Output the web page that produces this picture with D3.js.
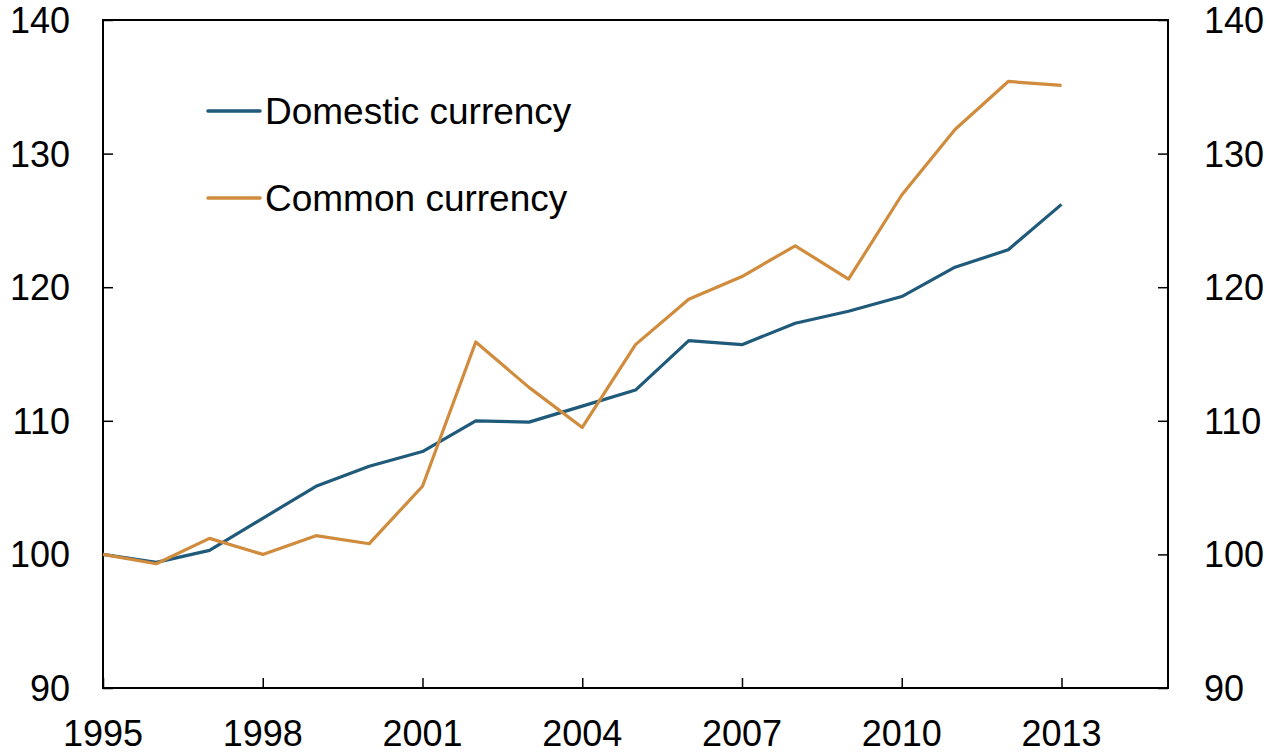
<!doctype html>
<meta charset="utf-8">
<title>Domestic vs common currency</title>
<style>
body, html { margin: 0; background: #fff; }
svg { display: block; font-family: "Liberation Sans", Arial, sans-serif; }
</style>
<script src="https://cdn.jsdelivr.net/npm/d3@7"></script>
<body>
<svg id="chart" width="1267" height="752"></svg>
<script>
var years = d3.range(1995, 2014);
var domestic = [100, 99.4, 100.3, 102.7, 105.1, 106.6, 107.7, 110.0, 109.9, 111.1,
                112.3, 116.0, 115.7, 117.3, 118.2, 119.3, 121.5, 122.8, 126.2];
var common = [100, 99.3, 101.2, 100.0, 101.4, 100.8, 105.1, 115.9, 112.5, 109.5,
              115.7, 119.1, 120.8, 123.1, 120.6, 126.9, 131.8, 135.4, 135.1];
var yTicks = [90, 100, 110, 120, 130, 140];
var xTicks = [1995, 1998, 2001, 2004, 2007, 2010, 2013];
var seriesNames = ["Domestic currency", "Common currency"];
var colors = ["#1f5a7a", "#d08c3c"];

// plot box (don't call it "top", that's window.top)
var pl = 103, pr = 1168, pt = 20, pb = 688;
var svg = d3.select("#chart");

var x = d3.scaleLinear().domain([1995, 2015]).range([pl, pr]);
var y = d3.scaleLinear().domain([90, 140]).range([pb, pt]);

// ticks point inward on all three sides
svg.append("g")
  .attr("transform", "translate(" + pl + ",0)")
  .call(d3.axisRight(y).tickValues(yTicks).tickSize(10).tickFormat(""))
  .call(g => g.select(".domain").remove());
svg.append("g")
  .attr("transform", "translate(" + pr + ",0)")
  .call(d3.axisLeft(y).tickValues(yTicks).tickSize(10).tickFormat(""))
  .call(g => g.select(".domain").remove());
svg.append("g")
  .attr("transform", "translate(0," + pb + ")")
  .call(d3.axisTop(x).tickValues(xTicks).tickSize(10).tickFormat(""))
  .call(g => g.select(".domain").remove());
svg.selectAll(".tick line").attr("stroke", "#000").attr("stroke-width", 1.5);

// labels
var fs = 36;
svg.append("g").selectAll("text").data(yTicks).join("text")
  .attr("x", 70).attr("y", d => y(d) + 13)
  .attr("text-anchor", "end").attr("font-size", fs).text(d => d);
svg.append("g").selectAll("text").data(yTicks).join("text")
  .attr("x", 1204).attr("y", d => y(d) + 13)
  .attr("text-anchor", "start").attr("font-size", fs).text(d => d);
svg.append("g").selectAll("text").data(xTicks).join("text")
  .attr("x", d => x(d)).attr("y", 746)
  .attr("text-anchor", "middle").attr("font-size", fs).text(d => d);

// frame
svg.append("rect")
  .attr("x", pl).attr("y", pt).attr("width", pr - pl).attr("height", pb - pt)
  .attr("fill", "none").attr("stroke", "#000").attr("stroke-width", 2);

var line = d3.line().x((d, i) => x(years[i])).y(d => y(d));
[domestic, common].forEach(function(s, k) {
  svg.append("path").datum(s)
    .attr("d", line)
    .attr("fill", "none")
    .attr("stroke", colors[k])
    .attr("stroke-width", 3.2)
    .attr("stroke-linejoin", "round");
});

// legend
var leg = svg.append("g");
seriesNames.forEach(function(n, k) {
  var ly = 111 + k * 87;
  leg.append("line").attr("x1", 208).attr("x2", 260).attr("y1", ly).attr("y2", ly)
    .attr("stroke", colors[k]).attr("stroke-width", 3.5).attr("stroke-linecap", "round");
  leg.append("text").attr("x", 265).attr("y", ly + 13).attr("font-size", 37).text(n);
});
</script>
</body>
